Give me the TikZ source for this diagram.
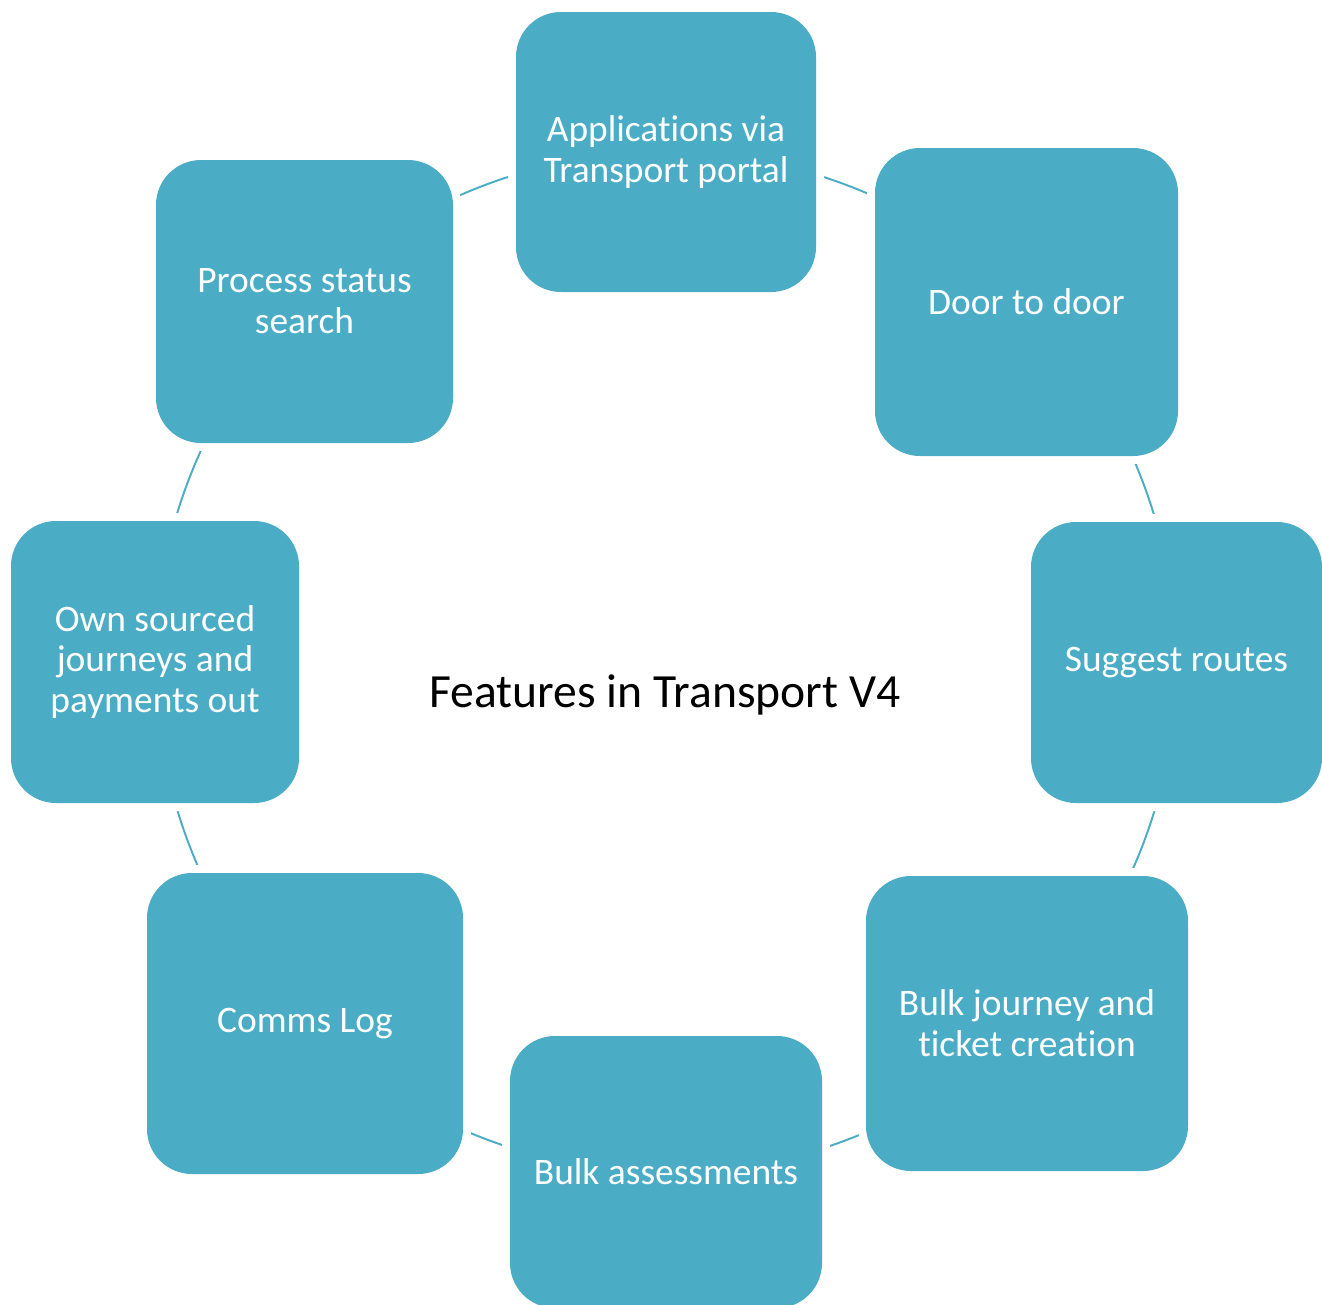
\documentclass[tikz,border=0pt]{standalone}
\usepackage{fontspec}
\setmainfont{Carlito}[Ligatures=NoCommon]
\usetikzlibrary{backgrounds}
\definecolor{boxteal}{HTML}{4BACC6}
\begin{document}
\begin{tikzpicture}[
  feature/.style={fill=boxteal, rounded corners=0.9cm, text=white,
    align=center, inner sep=0pt, font=\fontsize{21.3}{23.3}\selectfont,
    preaction={draw=white, line width=0.32cm}},
  link/.style={draw=boxteal, line width=1.1pt}]
\useasboundingbox (0,0) rectangle (26.44,-26.08);

\node[anchor=center, text=black, font=\fontsize{27.1}{30}\selectfont] (title) at (13.30,-13.90) {Features in Transport V4};

\node[feature, minimum width=6.00cm, minimum height=5.60cm] (apps) at (13.32,-3.04) {Applications via\\Transport portal};
\node[feature, minimum width=6.06cm, minimum height=6.16cm] (door) at (20.53,-6.04) {Door to door};
\node[feature, minimum width=5.82cm, minimum height=5.62cm] (routes) at (23.53,-13.25) {Suggest routes};
\node[feature, minimum width=6.44cm, minimum height=5.90cm] (bulkj) at (20.54,-20.47) {Bulk journey and\\ticket creation};
\node[feature, minimum width=6.24cm, minimum height=5.44cm] (bulka) at (13.32,-23.44) {Bulk assessments};
\node[feature, minimum width=6.32cm, minimum height=6.02cm] (comms) at (6.10,-20.47) {Comms Log};
\node[feature, minimum width=5.76cm, minimum height=5.64cm] (own) at (3.10,-13.24) {Own sourced\\journeys and\\payments out};
\node[feature, minimum width=5.94cm, minimum height=5.66cm] (status) at (6.09,-6.03) {Process status\\search};

% ring of links, hidden under the boxes
\begin{scope}[on background layer]
\draw[link] (apps.center) arc[start angle=90, end angle=45, radius=10.2cm];
\draw[link] (door.center) arc[start angle=45, end angle=0, radius=10.2cm];
\draw[link] (routes.center) arc[start angle=0, end angle=-45, radius=10.2cm];
\draw[link] (bulkj.center) arc[start angle=-45, end angle=-90, radius=10.2cm];
\draw[link] (bulka.center) arc[start angle=-90, end angle=-135, radius=10.2cm];
\draw[link] (comms.center) arc[start angle=-135, end angle=-180, radius=10.2cm];
\draw[link] (own.center) arc[start angle=180, end angle=135, radius=10.2cm];
\draw[link] (status.center) arc[start angle=135, end angle=90, radius=10.2cm];
\end{scope}
\end{tikzpicture}
\end{document}
